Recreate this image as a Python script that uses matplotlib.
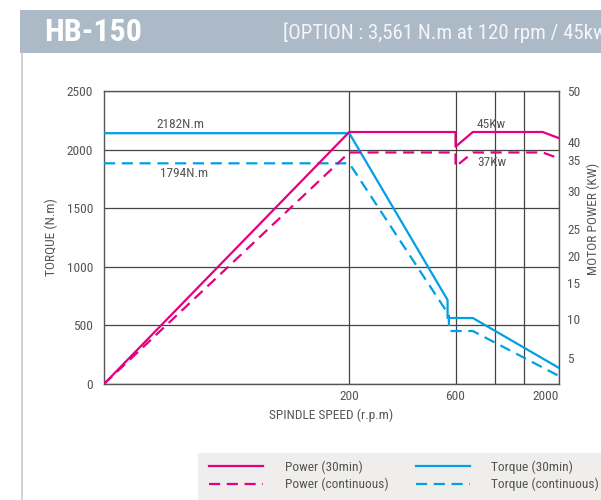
import numpy as np
import matplotlib
matplotlib.use("Agg")
import matplotlib.pyplot as plt
from matplotlib import font_manager
from matplotlib.patches import Rectangle
from matplotlib.lines import Line2D

# pick a condensed family if one is installed
_names = {f.name for f in font_manager.fontManager.ttflist}
_stretch = 'normal'
_cond = None
for cand in ['Roboto Condensed', 'Liberation Sans Narrow', 'Noto Sans Condensed',
             'Open Sans Condensed', 'DejaVu Sans Condensed', 'Arial Narrow']:
    if cand in _names:
        _cond = cand
        break
if _cond is None:
    for f in font_manager.fontManager.ttflist:
        if f.name in ('Noto Sans', 'Open Sans', 'DejaVu Sans') and f.stretch in ('condensed', 'semi-condensed'):
            _cond = f.name
            _stretch = f.stretch
            break
FONT = ([_cond] if _cond else []) + ['Liberation Sans', 'DejaVu Sans']
K = 1.0 if _cond else 0.86   # size factor for wide fallback fonts
plt.rcParams['font.family'] = FONT
plt.rcParams['font.stretch'] = _stretch

# ---------------- data ----------------
torque_30_rpm = [0, 200, 570, 570, 834, 2000]
torque_30_val = [2140, 2140, 717, 563, 563, 137]
torque_cont_rpm = [0, 200, 575, 575, 834, 2000]
torque_cont_val = [1883, 1883, 589, 452, 452, 68]

power_30_rpm = [0, 200, 600, 600, 834, 1780, 2000]
power_30_val = [0, 42.0, 42.0, 38.75, 42.0, 42.0, 40.8]
power_cont_rpm = [0, 200, 600, 600, 834, 1780, 2000]
power_cont_val = [0, 37.1, 37.1, 33.9, 37.1, 37.1, 35.4]

torque_ticks = [0, 500, 1000, 1500, 2000, 2500]
power_ticks = [5, 10, 15, 20, 25, 30, 35, 40, 50]
speed_ticks = [200, 600, 2000]
speed_extra_grid = [1140, 1520]

title = "HB-150"
subtitle = "[OPTION : 3,561 N.m at 120 rpm / 45kw"
labels = ["Power (30min)", "Power (continuous)", "Torque (30min)", "Torque (continuous)"]

# ---------------- scales (piecewise axes of the drawing) ----------------
RPM_BP = np.array([-1000, 0, 200, 600, 2000, 4000])
POS_BP = np.array([-1228, 0, 245.6, 352.0, 455.6, 603.6])
def xf(x):
    return np.interp(x, RPM_BP, POS_BP)
def xi(p):
    return np.interp(p, POS_BP, RPM_BP)

KW_BP = np.array([-50, 0, 5, 10, 15, 20, 25, 30, 35, 40, 50, 100])
FR_BP = np.array([-1.0, 0, 0.089, 0.222, 0.345, 0.437, 0.529, 0.660, 0.765, 0.825, 1.0, 1.875])
def pf(v):
    return np.interp(v, KW_BP, FR_BP)
def pi(f):
    return np.interp(f, FR_BP, KW_BP)

PINK = '#e5007f'
BLUE = '#00a0e6'
GRAY = '#555555'
LW = 1.6
FS = 9.6 * K

fig = plt.figure(figsize=(6.01, 5.0), dpi=100)
W, H = 601, 500
def fx(px):
    return px / W
def fy(py):
    return 1 - py / H

# header band
fig.add_artist(Rectangle((fx(20), fy(53)), fx(581), 43 / H, transform=fig.transFigure,
                         facecolor='#acb9c7', edgecolor='none', zorder=0))
fig.add_artist(Line2D([fx(22), fx(22)], [fy(53), 0], transform=fig.transFigure,
                      color='#c8ccd0', lw=1.2))
fig.text(fx(44), fy(32), title, color='white', fontsize=23 * (1.0 if _cond else 0.92),
         fontweight='bold', va='center', ha='left')
fig.text(fx(283), fy(33), subtitle, color='#f4f6f8', fontsize=15 * K,
         va='center', ha='left')

# legend band
fig.add_artist(Rectangle((fx(198), 0), fx(403), 47.5 / H, transform=fig.transFigure,
                         facecolor='#efeeec', edgecolor='none', zorder=0))

ax = fig.add_axes([fx(104), fy(384), fx(559 - 104), (384 - 91) / H])
ax.set_xscale('function', functions=(xf, xi))
ax.set_xlim(0, 2000)
ax.set_ylim(0, 2500)

ax.plot(torque_30_rpm, torque_30_val, color=BLUE, lw=LW, zorder=3)
ax.plot(torque_cont_rpm, torque_cont_val, color=BLUE, lw=LW, ls=(0, (5, 3)), zorder=3)

ax.set_yticks(torque_ticks)
ax.set_xticks(speed_ticks)
ax.set_xticks(speed_extra_grid, minor=True)
ax.set_xticklabels([str(v) for v in speed_ticks])
ax.get_xticklabels()[-1].set_ha('right')
ax.tick_params(axis='both', which='both', length=0, colors=GRAY, labelsize=FS)
ax.tick_params(axis='y', pad=8)
ax.tick_params(axis='x', pad=4)
ax.grid(True, which='both', color='#444444', lw=0.9, zorder=1)
for s in ax.spines.values():
    s.set_color('#555555')
    s.set_linewidth(1.0)
ax.set_axisbelow(True)

ax.set_ylabel("TORQUE (N.m)", color=GRAY, fontsize=FS, labelpad=6)
ax.set_xlabel("SPINDLE SPEED (r.p.m)", color=GRAY, fontsize=FS, labelpad=4)

ax.text(62, 2210, "2182N.m", color=GRAY, fontsize=FS, ha='center', va='center')
ax.text(65, 1792, "1794N.m", color=GRAY, fontsize=FS, ha='center', va='center')
ax.text(1086, 2218, "45Kw", color=GRAY, fontsize=FS, ha='center', va='center')
ax.text(1086, 1888, "37Kw", color=GRAY, fontsize=FS, ha='center', va='center')

ax2 = ax.twinx()
ax2.set_yscale('function', functions=(pf, pi))
ax2.set_ylim(0, 50)
ax2.plot(power_30_rpm, power_30_val, color=PINK, lw=LW, zorder=3)
ax2.plot(power_cont_rpm, power_cont_val, color=PINK, lw=LW, ls=(0, (5, 3)), zorder=3)
ax2.set_yticks(power_ticks)
ax2.set_yticklabels([str(v) for v in power_ticks])
ax2.yaxis.set_minor_locator(matplotlib.ticker.NullLocator())
ax2.tick_params(axis='y', length=0, colors=GRAY, labelsize=FS, pad=6)
for s in ax2.spines.values():
    s.set_visible(False)
ax2.set_ylabel("MOTOR POWER (KW)", color=GRAY, fontsize=FS * (1.0 if _cond else 0.9))
ax2.yaxis.set_label_coords(1.060, 0.563)

# legend entries
def leg_line(x0, x1, y, color, ls):
    fig.add_artist(Line2D([fx(x0), fx(x1)], [fy(y), fy(y)], transform=fig.transFigure,
                          color=color, lw=LW, ls=ls))
leg_line(209, 263, 466, PINK, '-')
leg_line(209, 263, 483.5, PINK, (0, (5, 3)))
leg_line(416, 470, 466, BLUE, '-')
leg_line(416, 470, 483.5, BLUE, (0, (5, 3)))
fig.text(fx(285), fy(467), labels[0], color=GRAY, fontsize=FS, va='center')
fig.text(fx(285), fy(484), labels[1], color=GRAY, fontsize=FS, va='center')
fig.text(fx(491), fy(467), labels[2], color=GRAY, fontsize=FS, va='center')
fig.text(fx(491), fy(484), labels[3], color=GRAY, fontsize=FS, va='center')

fig.savefig("out.png", dpi=100)
